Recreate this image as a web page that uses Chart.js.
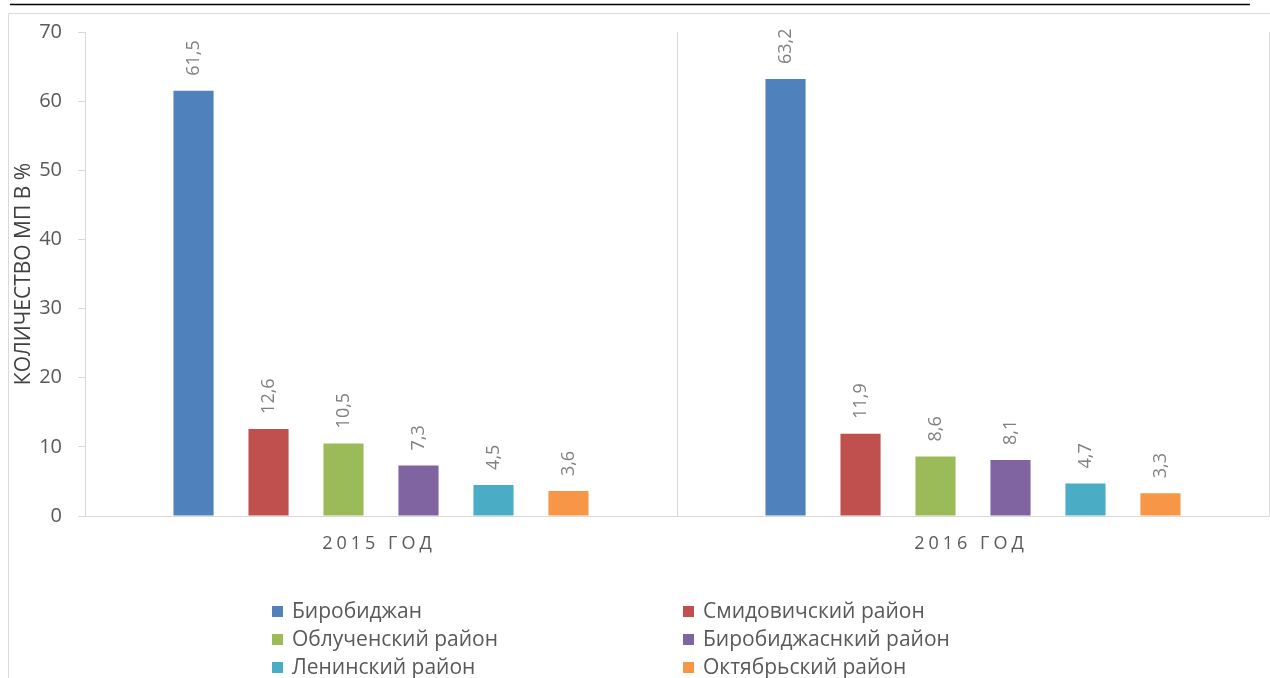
<!DOCTYPE html>
<html>
<head>
<meta charset="utf-8">
<script src="https://cdn.jsdelivr.net/npm/chart.js@4.4.1/dist/chart.umd.min.js"></script>
<style>
    html, body { margin: 0; padding: 0; background: #ffffff; }
    #mpChart { display: block; }
</style>
</head>
<body>
<canvas id="mpChart" width="1270" height="678"></canvas>
<script>
// Data
const years = ['2015 ГОД', '2016 ГОД'];
const districts = ['Биробиджан', 'Смидовичский район', 'Облученский район', 'Биробиджаснкий район', 'Ленинский район', 'Октябрьский район'];
const birobidzhan = [61.5, 63.2];
const smidovich = [12.6, 11.9];
const obluchye = [10.5, 8.6];
const birobidzhanDistrict = [7.3, 8.1];
const leninsky = [4.5, 4.7];
const oktyabrsky = [3.6, 3.3];
const yTicks = [0, 10, 20, 30, 40, 50, 60, 70];
const colors = ['#4F81BD', '#C0504D', '#9BBB59', '#8064A2', '#4BACC6', '#F79646'];

const seriesValues = [birobidzhan, smidovich, obluchye, birobidzhanDistrict, leninsky, oktyabrsky];
const FONT = '"Open Sans", "Noto Sans", sans-serif';

// Frame around the chart + white background
const framePlugin = {
    id: 'frame',
    beforeDraw: (chart) => {
        const ctx = chart.ctx;
        ctx.save();
        ctx.fillStyle = '#ffffff';
        ctx.fillRect(0, 0, chart.width, chart.height);
        // black rule at the very top
        ctx.strokeStyle = '#000000';
        ctx.lineWidth = 1.5;
        ctx.beginPath();
        ctx.moveTo(10, 4.5);
        ctx.lineTo(1250, 4.5);
        ctx.stroke();
        // grey chart border
        ctx.strokeStyle = '#d9d9d9';
        ctx.lineWidth = 1;
        ctx.beginPath();
        ctx.moveTo(8.5, chart.height);
        ctx.lineTo(8.5, 13.5);
        ctx.lineTo(chart.width, 13.5);
        ctx.stroke();
        ctx.restore();
    }
};

// Rotated value labels above the bars
const valueLabels = {
    id: 'valueLabels',
    afterDatasetsDraw: (chart) => {
        const ctx = chart.ctx;
        ctx.save();
        ctx.font = '18px ' + FONT;
        ctx.fillStyle = '#808080';
        ctx.textAlign = 'left';
        ctx.textBaseline = 'middle';
        chart.data.datasets.forEach((ds, i) => {
            chart.getDatasetMeta(i).data.forEach((bar, j) => {
                const text = ds.data[j].toFixed(1).replace('.', ',');
                ctx.save();
                ctx.translate(bar.x, bar.y - 15);
                ctx.rotate(-Math.PI / 2);
                ctx.fillText(text, 0, 0);
                ctx.restore();
            });
        });
        ctx.restore();
    }
};

// Spaced category labels + two-column legend
const extras = {
    id: 'extras',
    afterDraw: (chart) => {
        const ctx = chart.ctx;
        const xScale = chart.scales.x;
        ctx.save();
        ctx.font = '18px ' + FONT;
        ctx.fillStyle = '#595959';
        ctx.textAlign = 'center';
        ctx.textBaseline = 'middle';
        ctx.letterSpacing = '4px';
        chart.data.labels.forEach((label, i) => {
            ctx.fillText(label, xScale.getPixelForValue(i) - 2, 544);
        });
        ctx.letterSpacing = '0px';

        const colX = [272, 683];
        const rowY = [612, 640, 668];
        ctx.font = '21px ' + FONT;
        ctx.textAlign = 'left';
        chart.data.datasets.forEach((ds, i) => {
            const x = colX[i % 2];
            const y = rowY[Math.floor(i / 2)];
            ctx.fillStyle = ds.backgroundColor;
            ctx.fillRect(x, y - 6, 11, 11);
            ctx.fillStyle = '#595959';
            ctx.fillText(ds.label, x + 20, y);
        });
        ctx.restore();
    }
};

const ctx = document.getElementById('mpChart').getContext('2d');
new Chart(ctx, {
    type: 'bar',
    data: {
        labels: years,
        datasets: districts.map((name, i) => ({
            label: name,
            data: seriesValues[i],
            backgroundColor: colors[i],
            categoryPercentage: 0.76,
            barPercentage: 0.535
        }))
    },
    options: {
        responsive: false,
        animation: false,
        layout: {
            padding: { top: 32, right: 1, bottom: 0, left: 0 }
        },
        plugins: {
            legend: { display: false },
            tooltip: { enabled: false }
        },
        scales: {
            x: {
                grid: {
                    color: '#d9d9d9',
                    drawTicks: false,
                    offset: true
                },
                border: { color: '#d9d9d9' },
                ticks: { display: false },
                afterFit: (scale) => { scale.height = 162; }
            },
            y: {
                min: 0,
                max: 70,
                afterBuildTicks: (scale) => {
                    scale.ticks = yTicks.map(v => ({ value: v }));
                },
                grid: {
                    drawOnChartArea: false,
                    tickLength: 7,
                    color: '#d9d9d9'
                },
                border: { color: '#d9d9d9' },
                ticks: {
                    padding: 16,
                    color: '#595959',
                    font: { family: FONT, size: 20 }
                },
                title: {
                    display: true,
                    text: 'КОЛИЧЕСТВО МП В %',
                    color: '#404040',
                    font: { family: FONT, size: 21 },
                    padding: { top: 11, bottom: 0 }
                },
                afterFit: (scale) => { scale.width = 85; }
            }
        }
    },
    plugins: [framePlugin, valueLabels, extras]
});
</script>
</body>
</html>
